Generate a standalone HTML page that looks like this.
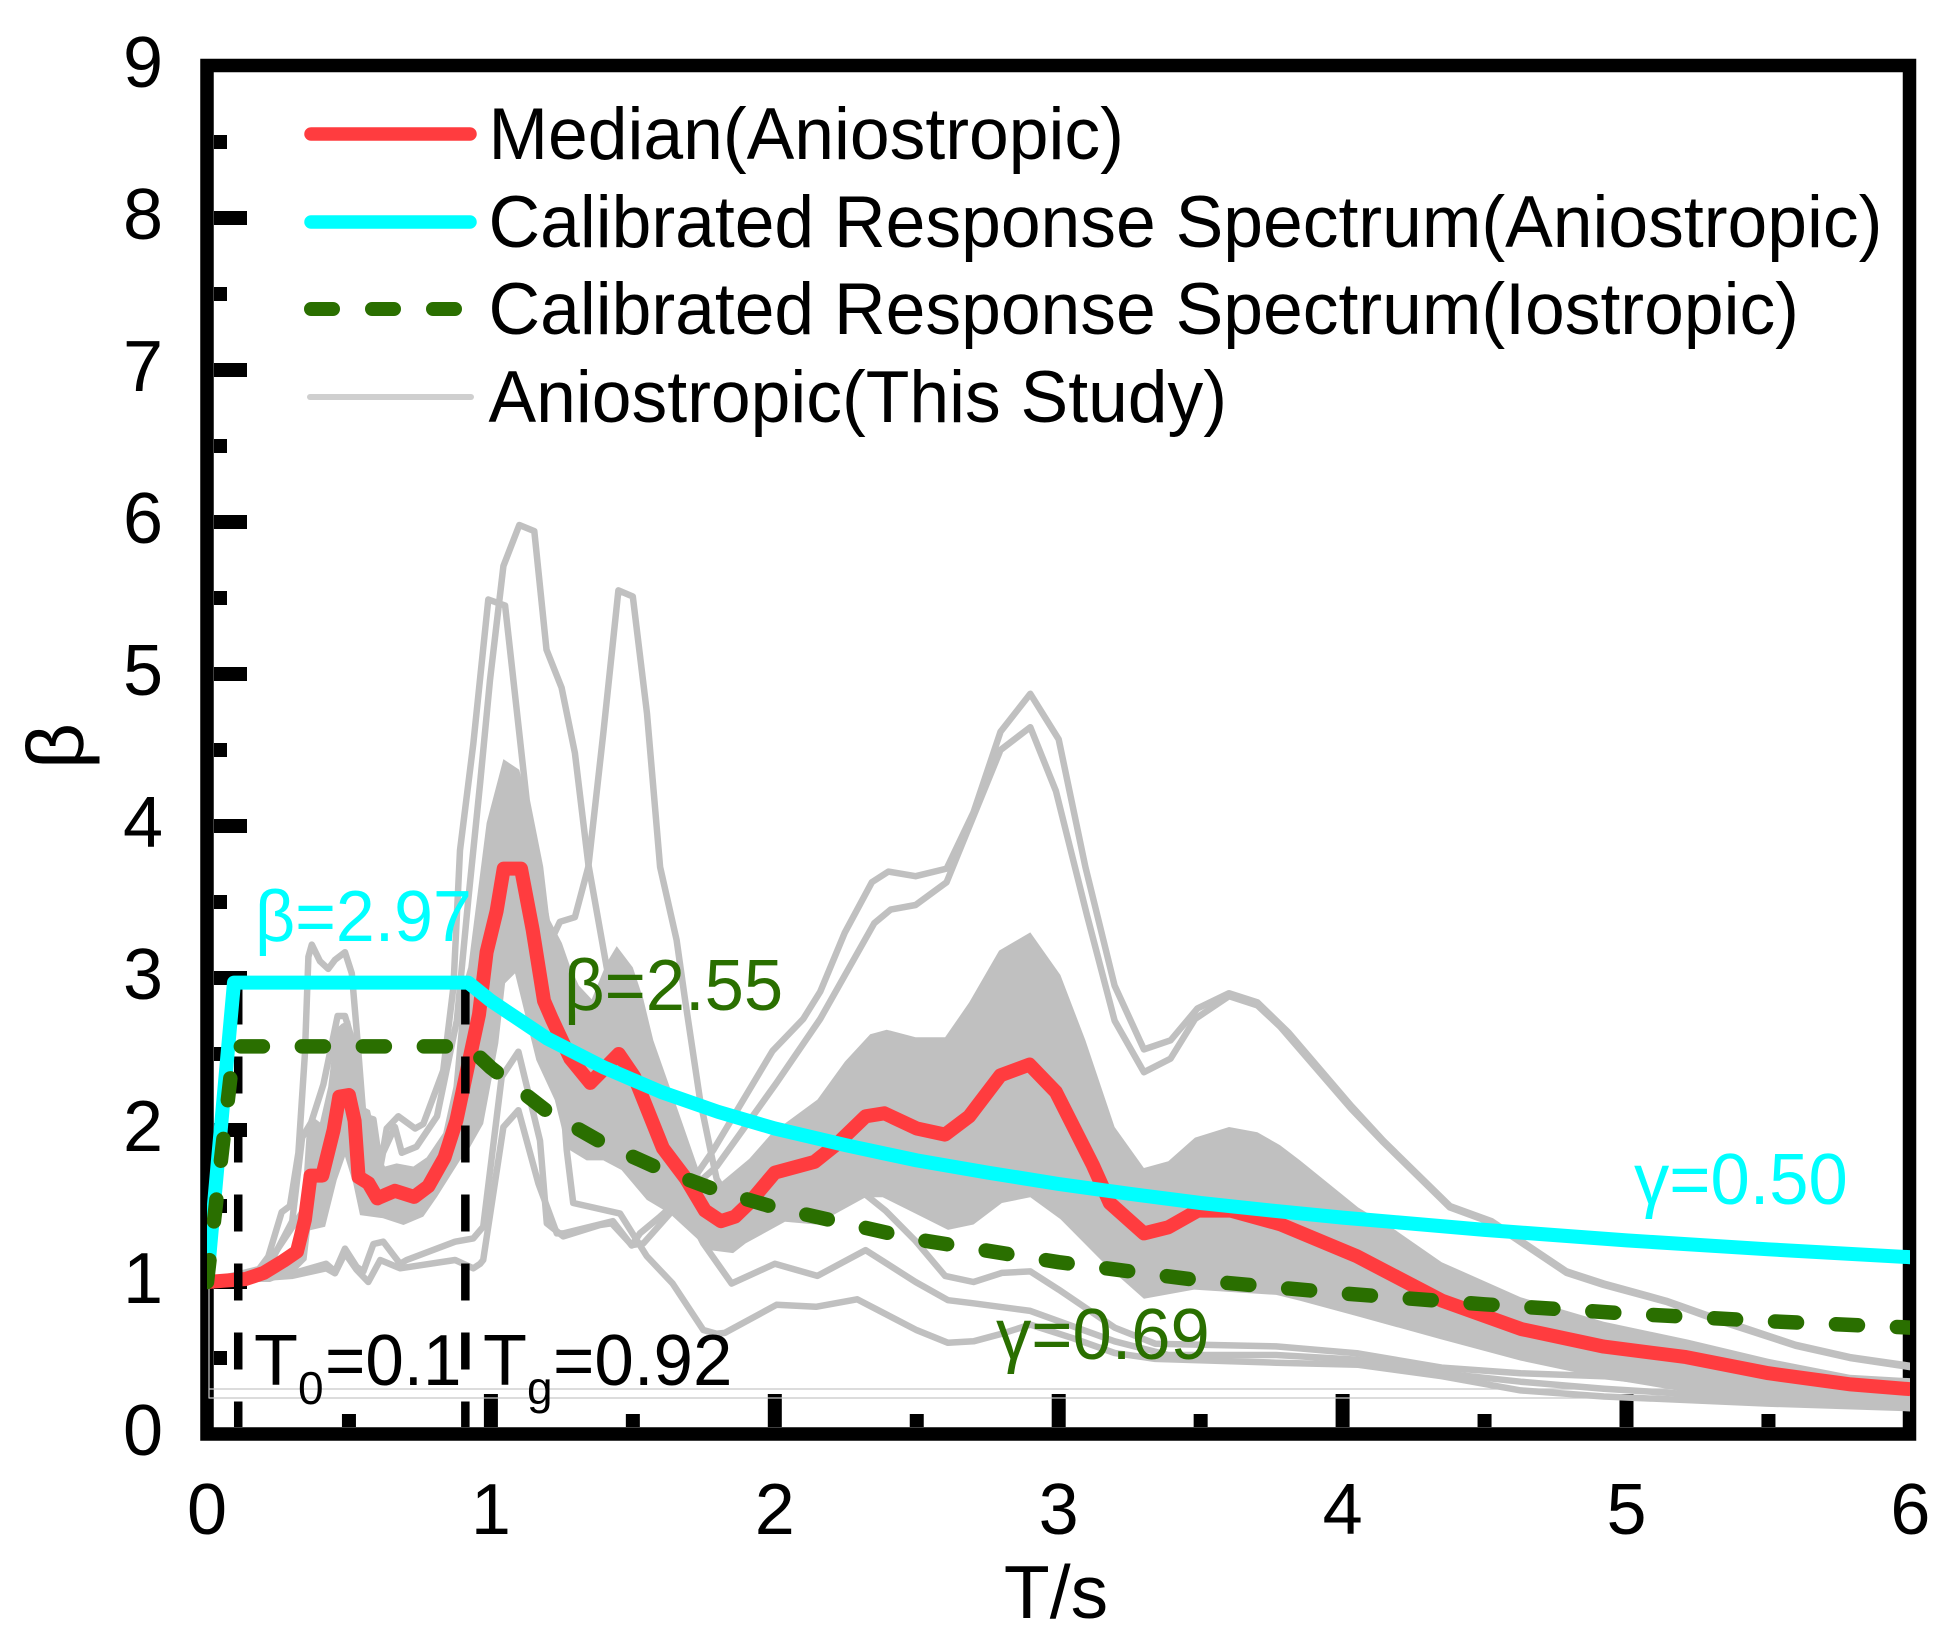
<!DOCTYPE html>
<html>
<head>
<meta charset="utf-8">
<title>Response spectrum chart</title>
<style>
html,body{margin:0;padding:0;background:#fff;}
svg{display:block;}
text{font-family:"Liberation Sans",sans-serif;}
</style>
</head>
<body>
<svg id="chart" xmlns="http://www.w3.org/2000/svg" width="1954" height="1652" viewBox="0 0 1954 1652">
  <defs><clipPath id="plot-clip"><rect x="207" y="66" width="1703" height="1368"/></clipPath></defs>
  <rect x="0" y="0" width="1954" height="1652" fill="#fff"/>
  <g id="y-ticks"></g>
  <g id="x-ticks"></g>
  <rect x="207" y="65.5" width="1702.5" height="1368.5" fill="none" stroke="#000" stroke-width="13.5"/>
  <g id="tick-labels"></g>
  <g id="thin-box"></g>
  <g id="series" clip-path="url(#plot-clip)"></g>

  <text x="1056" y="1618" font-size="75" text-anchor="middle">T/s</text>
  <text transform="translate(83,746) rotate(-90)" font-size="80" text-anchor="middle">β</text>

  <g>
    <line x1="311" y1="134" x2="470" y2="134" stroke="#FF3C3F" stroke-width="13.5" stroke-linecap="round"/>
    <text transform="translate(488.5,159) scale(0.979,1)" font-size="73">Median(Aniostropic)</text>
    <line x1="311" y1="222" x2="470" y2="222" stroke="#00FFFF" stroke-width="13.5" stroke-linecap="round"/>
    <text transform="translate(488.5,247) scale(0.979,1)" font-size="73">Calibrated Response Spectrum(Aniostropic)</text>
    <line x1="311" y1="309" x2="462" y2="309" stroke="#2A6F00" stroke-width="14" stroke-linecap="round" stroke-dasharray="22 39"/>
    <text transform="translate(488.5,334) scale(0.979,1)" font-size="73">Calibrated Response Spectrum(Iostropic)</text>
    <line x1="310" y1="397" x2="471" y2="397" stroke="#CFCFCF" stroke-width="6" stroke-linecap="round"/>
    <text transform="translate(488.5,422) scale(0.979,1)" font-size="73">Aniostropic(This Study)</text>
  </g>

  <text transform="translate(255,941) scale(0.97,1)" font-size="72" fill="#00FFFF">β=2.97</text>
  <text transform="translate(564,1010) scale(0.98,1)" font-size="72" fill="#2A6F00">β=2.55</text>
  <text transform="translate(1634,1204) scale(0.98,1)" font-size="72" fill="#00FFFF">γ=0.50</text>
  <text transform="translate(996,1359) scale(0.98,1)" font-size="72" fill="#2A6F00">γ=0.69</text>
  <g>
    <text x="254" y="1385" font-size="72">T</text>
    <text x="298" y="1404" font-size="46">0</text>
    <text transform="translate(325,1385) scale(0.96,1)" font-size="72">=0.1</text>
  </g>
  <g>
    <text x="483" y="1385" font-size="72">T</text>
    <text x="527" y="1404" font-size="46">g</text>
    <text transform="translate(553,1385) scale(0.985,1)" font-size="72">=0.92</text>
  </g>
</svg>
<script>
// ---- axis tick data ----
var xTickLabels = [0, 1, 2, 3, 4, 5, 6];
var yTickLabels = [0, 1, 2, 3, 4, 5, 6, 7, 8, 9];
var xMinorTicks = [0.5, 1.5, 2.5, 3.5, 4.5, 5.5];
var yMinorTicks = [0.5, 1.5, 2.5, 3.5, 4.5, 5.5, 6.5, 7.5, 8.5];
var markerPeriods = [0.11, 0.91];

// ---- median ----
var medianT = [0,.136,.20,.27,.317,.345,.365,.406,.446,.466,.50,.52,.534,.569,.60,.662,.73,.78,.837,.878,.918,.958,.985,1.02,1.045,1.106,1.147,1.187,1.215,1.28,1.35,1.45,1.505,1.606,1.687,1.754,1.81,1.86,1.91,2.0,2.14,2.22,2.32,2.386,2.50,2.60,2.685,2.795,2.897,2.99,3.12,3.18,3.30,3.386,3.49,3.606,3.78,4.05,4.35,4.63,4.92,5.21,5.50,5.79,6.0];
var medianBeta = [1,1.02,1.06,1.14,1.20,1.41,1.70,1.70,2.0,2.22,2.23,2.06,1.69,1.65,1.55,1.60,1.56,1.63,1.82,2.06,2.41,2.76,3.17,3.44,3.72,3.72,3.32,2.85,2.73,2.47,2.31,2.50,2.35,1.88,1.68,1.47,1.40,1.43,1.52,1.72,1.79,1.91,2.09,2.11,2.01,1.97,2.09,2.36,2.43,2.25,1.77,1.52,1.32,1.36,1.47,1.47,1.38,1.17,.877,.69,.575,.506,.40,.326,.295];

// ---- calibrated spectra ----
var anisoT = [0,.095,.92,1,1.2,1.4,1.6,1.8,2,2.25,2.5,2.75,3,3.25,3.5,3.75,4,4.5,5,5.5,6];
var anisoBeta = [1,2.97,2.97,2.85,2.60,2.41,2.25,2.12,2.01,1.90,1.80,1.72,1.645,1.58,1.52,1.47,1.424,1.343,1.274,1.215,1.163];
var isoT = [0,.095,.92,1,1.2,1.4,1.6,1.8,2,2.5,3,3.5,4,4.5,5,5.5,6];
var isoBeta = [1,2.55,2.55,2.41,2.12,1.908,1.74,1.60,1.49,1.28,1.13,1.01,.925,.853,.793,.742,.70];

// ---- shaded band between percentiles ----
var bandUpperT = [.02,.2,.27,.322,.34,.351,.369,.398,.427,.451,.475,.504,.527,.545,.574,.592,.61,.627,.668,.727,.774,.832,.868,.90,.92,.985,1.044,1.10,1.126,1.16,1.208,1.25,1.28,1.31,1.355,1.408,1.443,1.50,1.537,1.572,1.666,1.748,1.807,1.91,1.99,2.15,2.247,2.336,2.394,2.496,2.60,2.685,2.79,2.90,3.006,3.094,3.197,3.30,3.386,3.48,3.60,3.70,3.78,3.85,4.055,4.187,4.349,4.627,4.92,5.215,5.50,5.787,6.0];
var bandUpperBeta = [1,1.06,1.17,1.19,1.67,1.98,2.09,2.05,2.285,2.66,2.70,2.72,2.50,2.16,2.13,1.98,1.82,1.76,1.78,1.76,1.82,1.98,2.285,2.94,3.07,4.02,4.44,4.37,4.17,3.86,3.38,3.23,3.07,2.95,2.86,3.10,3.21,3.07,2.86,2.59,2.09,1.65,1.65,1.81,1.98,2.2,2.45,2.63,2.66,2.61,2.61,2.84,3.18,3.30,3.02,2.59,2.02,1.75,1.795,1.95,2.02,1.985,1.90,1.80,1.49,1.34,1.13,.90,.738,.622,.495,.39,.367];
var bandLowerT = [.02,.222,.304,.351,.363,.416,.457,.486,.515,.539,.62,.692,.762,.81,.891,.915,.973,1.026,1.05,1.085,1.16,1.225,1.267,1.337,1.396,1.46,1.549,1.63,1.77,1.853,1.897,2.036,2.145,2.32,2.38,2.496,2.61,2.70,2.80,2.90,3.006,3.167,3.30,3.477,3.766,3.85,4.055,4.349,4.627,4.92,5.215,5.50,6.0];
var bandLowerBeta = [1,1.0,1.057,1.145,1.34,1.364,1.67,1.825,1.65,1.44,1.42,1.375,1.43,1.56,1.80,1.85,2.04,2.57,2.965,3.03,2.46,2.197,1.88,1.80,1.80,1.737,1.54,1.45,1.21,1.19,1.254,1.396,1.378,1.557,1.557,1.45,1.343,1.378,1.52,1.557,1.414,1.11,.89,.95,.915,.877,.773,.622,.483,.367,.275,.217,.17];

// ---- individual gray records ----
var recordAT = [0,.163,.216,.263,.292,.322,.345,.357,.369,.398,.427,.451,.486,.51,.527,.551,.586,.61,.633,.674,.733,.762,.832,.868,.891,.938,.991,1.05,1.10,1.126,1.173,1.20,1.23,1.267,1.29,1.455,1.549,1.64,1.748,1.795,1.824,2.006,2.145,2.29,2.50,2.61,2.70,2.80,2.90,3.05,3.197,3.34,3.766,4.055,4.349,4.627,4.92,5.5,6.0];
var recordABeta = [1,1.035,1.167,1.46,1.50,1.85,2.50,3.14,3.22,3.11,3.06,3.12,3.17,3.03,2.66,2.09,2.07,1.76,2.01,2.09,2.01,2.04,2.39,2.94,3.84,4.54,5.49,5.45,4.61,4.17,3.73,3.3,2.8,1.87,1.52,1.45,1.17,.99,.684,.66,.665,.85,.837,.886,.683,.60,.61,.66,.72,.63,.533,.494,.469,.455,.38,.287,.247,.20,.17];
var recordBT = [0,.216,.30,.335,.367,.41,.46,.486,.51,.55,.59,.62,.662,.686,.738,.81,.88,.92,.962,.997,1.044,1.10,1.153,1.196,1.249,1.296,1.343,1.408,1.46,1.6,1.748,1.848,2.0,2.15,2.32,2.496,2.61,2.70,2.90,3.197,3.386,3.766,4.055,4.349,4.627,4.92,5.5,6.0];
var recordBBeta = [1,1.10,1.4,1.95,2.05,2.3,2.75,2.75,2.6,1.8,1.55,1.85,2.02,1.85,1.89,2.09,2.72,3.51,4.28,4.96,5.71,5.98,5.94,5.16,4.91,4.48,3.75,3.07,2.6,1.8,1.254,.99,1.12,1.04,1.21,1.00,.88,.86,.81,.61,.52,.52,.488,.40,.344,.298,.229,.178];
var recordCT = [0,.2,.35,.45,.49,.53,.6,.75,.9,1.0,1.1,1.2,1.243,1.296,1.343,1.396,1.449,1.50,1.55,1.596,1.654,1.684,1.737,1.778,1.795,1.88,2.03,2.32,2.39,2.496,2.60,2.70,2.80,2.90,3.0,3.197,3.34,3.766,4.055,4.349,4.627,4.92,5.215,5.5,6.0];
var recordCBeta = [1,1.08,1.5,1.95,2.1,1.8,1.55,1.6,2.2,2.9,3.6,3.2,3.37,3.40,3.73,4.61,5.55,5.51,4.74,3.73,3.25,2.855,2.197,1.825,1.68,1.41,1.49,1.575,1.47,1.27,1.04,1.0,1.06,1.07,.95,.70,.594,.576,.53,.437,.40,.38,.32,.25,.205];
var recordDT = [0,.298,.327,.42,.451,.486,.527,.551,.586,.621,.68,.703,.874,.938,.973,1.038,1.097,1.173,1.197,1.255,1.384,1.425,1.496,1.537,1.63,1.784,1.992,2.10,2.16,2.247,2.342,2.40,2.496,2.605,2.70,2.795,2.90,3.0,3.094,3.197,3.30,3.394,3.489,3.60,3.70,3.81,4.03,4.143,4.378,4.525,4.789,4.92,5.14,5.317,5.596,5.787,6.0];
var recordDBeta = [1,1.046,1.07,1.12,1.07,1.22,1.10,1.07,1.25,1.265,1.12,1.145,1.265,1.287,1.364,2.35,2.515,1.93,1.386,1.30,1.375,1.386,1.243,1.254,1.45,1.87,2.52,2.73,2.91,3.30,3.63,3.70,3.67,3.72,4.09,4.62,4.87,4.57,3.73,2.95,2.53,2.59,2.80,2.90,2.84,2.64,2.16,1.93,1.50,1.40,1.07,.99,.877,.76,.587,.506,.449];
var recordET = [0,.298,.42,.451,.486,.527,.568,.61,.68,.874,.938,.962,.973,1.044,1.097,1.167,1.232,1.255,1.43,1.496,1.525,1.596,1.795,2.006,2.16,2.35,2.408,2.496,2.605,2.795,2.90,2.99,3.10,3.197,3.30,3.394,3.48,3.60,3.70,3.78,4.03,4.143,4.378,4.525,4.789,4.92,5.14,5.317,5.596,5.787,6.0];
var recordEBeta = [1,1.04,1.09,1.057,1.19,1.08,1.0,1.145,1.09,1.145,1.09,1.12,1.145,2.02,2.13,1.65,1.32,1.32,1.40,1.24,1.32,1.43,1.76,2.31,2.73,3.36,3.45,3.48,3.63,4.50,4.65,4.23,3.41,2.72,2.38,2.47,2.73,2.88,2.82,2.68,2.14,1.92,1.49,1.39,1.06,.98,.87,.75,.58,.50,.44];

// ---- axis functions ----
function xScale(t) { return 207 + 283.9 * t; }
function yScale(b) { return 1434 - 152 * b; }

var SVG_NS = 'http://www.w3.org/2000/svg';
function pathFrom(ts, bs) {
  var d = '';
  for (var i = 0; i < ts.length; i++) {
    d += (i ? 'L' : 'M') + xScale(ts[i]).toFixed(1) + ' ' + yScale(bs[i]).toFixed(1);
  }
  return d;
}
function addPath(parent, d, name, fill, stroke, width, dash, cap) {
  var el = document.createElementNS(SVG_NS, 'path');
  
  
  el.setAttribute('d', d);
  el.setAttribute('fill', fill);
  el.setAttribute('stroke', stroke);
  el.setAttribute('stroke-width', width);
  el.setAttribute('stroke-linejoin', 'round');
  el.setAttribute('stroke-linecap', cap || 'butt');
  if (dash) { el.setAttribute('stroke-dasharray', dash); }
  parent.appendChild(el);
  return el;
}
function addTick(parent, x, y, w, h, name) {
  var el = document.createElementNS(SVG_NS, 'rect');
  
  
  el.setAttribute('x', x);
  el.setAttribute('y', y);
  el.setAttribute('width', w);
  el.setAttribute('height', h);
  el.setAttribute('fill', '#000');
  parent.appendChild(el);
}
function addLabel(parent, x, y, anchor, value, name) {
  var el = document.createElementNS(SVG_NS, 'text');
  
  
  el.setAttribute('x', x);
  el.setAttribute('y', y);
  el.setAttribute('font-size', '72');
  el.setAttribute('text-anchor', anchor);
  el.textContent = value;
  parent.appendChild(el);
}

// ---- ticks and labels ----
var yTicksG = document.getElementById('y-ticks');
var xTicksG = document.getElementById('x-ticks');
var labelsG = document.getElementById('tick-labels');
yTickLabels.forEach(function (v, i) {
  if (i > 0 && i < yTickLabels.length - 1) {
    addTick(yTicksG, 214, yScale(v) - 7, 33, 14, 'y-major-tick-' + v);
  }
  addLabel(labelsG, 163, yScale(v) + 21, 'end', v, 'y-tick-label-' + v);
});
yMinorTicks.forEach(function (v) {
  addTick(yTicksG, 214, yScale(v) - 7, 13, 14, 'y-minor-tick');
});
xTickLabels.forEach(function (v, i) {
  if (i > 0 && i < xTickLabels.length - 1) {
    addTick(xTicksG, xScale(v) - 7, 1394, 14, 33, 'x-major-tick-' + v);
  }
  addLabel(labelsG, xScale(v), 1534, 'middle', v, 'x-tick-label-' + v);
});
xMinorTicks.forEach(function (v) {
  addTick(xTicksG, xScale(v) - 7, 1414, 14, 13, 'x-minor-tick');
});

// ---- thin reference box ----
var thin = document.getElementById('thin-box');
addPath(thin, 'M209 1281V1398H1910M209 1389H1910', 'thin-gray-outline', 'none', '#C8C8C8', 1.2);

// ---- series ----
var seriesG = document.getElementById('series');
var bandD = pathFrom(bandUpperT.concat(bandLowerT.slice().reverse()), bandUpperBeta.concat(bandLowerBeta.slice().reverse())) + 'Z';
addPath(seriesG, bandD, 'percentile-band', '#C0C0C0', 'none', 0);
addPath(seriesG, pathFrom(recordAT, recordABeta), 'record-line-a', 'none', '#C0C0C0', 6.5);
addPath(seriesG, pathFrom(recordBT, recordBBeta), 'record-line-b', 'none', '#C0C0C0', 6.5);
addPath(seriesG, pathFrom(recordCT, recordCBeta), 'record-line-c', 'none', '#C0C0C0', 6.5);
addPath(seriesG, pathFrom(recordDT, recordDBeta), 'record-line-d', 'none', '#C0C0C0', 6.5);
addPath(seriesG, pathFrom(recordET, recordEBeta), 'record-line-e', 'none', '#C0C0C0', 6.5);
addPath(seriesG, pathFrom(medianT, medianBeta), 'median-line', 'none', '#FF3C3F', 14);

markerPeriods.forEach(function (t, i) {
  var mx = xScale(t);
  var el = document.createElementNS(SVG_NS, 'line');
  
  
  el.setAttribute('x1', mx);
  el.setAttribute('x2', mx);
  el.setAttribute('y1', 987.5);
  el.setAttribute('y2', 1427);
  el.setAttribute('stroke', '#000');
  el.setAttribute('stroke-width', 8.5);
  el.setAttribute('stroke-dasharray', '37 32');
  seriesG.appendChild(el);
});

addPath(seriesG, pathFrom(anisoT, anisoBeta), 'calibrated-anisotropic-line', 'none', '#00FFFF', 14);
addPath(seriesG, pathFrom(isoT, isoBeta), 'calibrated-isotropic-line', 'none', '#2A6F00', 14.5, '22 39', 'round');
</script>
</body>
</html>
